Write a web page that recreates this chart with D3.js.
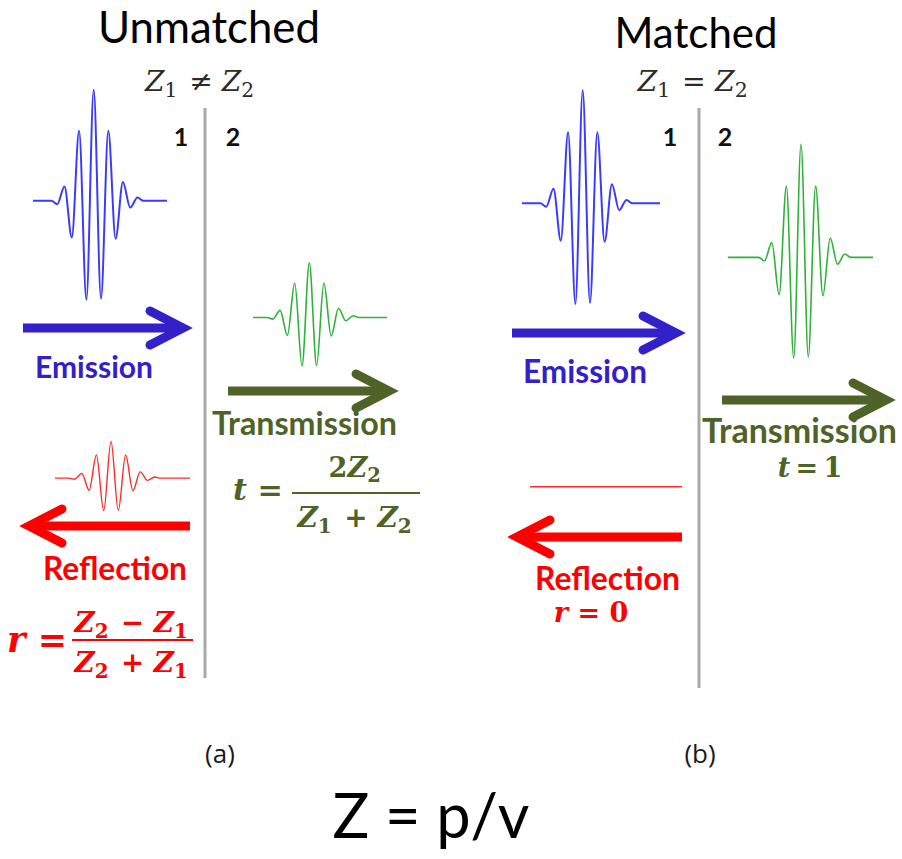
<!DOCTYPE html>
<html>
<head>
<meta charset="utf-8">
<script src="https://cdn.jsdelivr.net/npm/d3@7"></script>
<style>
  html, body { margin: 0; padding: 0; background: #ffffff; }
  svg { display: block; }
</style>
</head>
<body>
<svg id="fig" width="902" height="859"></svg>
<script>
// Normalised extrema of the ultrasonic wave packet (alternating troughs / crests)
const packetShape = [-0.03, 0.13, -0.33, 0.63, -0.89, 1.0, -0.88, 0.63, -0.34, 0.17, -0.06, 0.03];

// Panel content
const panelTitles = ["Unmatched", "Matched"];
const impedanceRelations = ["\u2260", "="];
const panelCaptions = ["(a)", "(b)"];
const mediumLabels = ["1", "2"];
const waveNames = ["Emission", "Transmission", "Reflection"];

// Relative amplitude of each wave (emission, transmission, reflection)
const amplitudesUnmatched = [1.0, 0.49, 0.33];
const amplitudesMatched = [1.0, 1.0, 0.0];

const footer = "Z = p/v";

// ---------------------------------------------------------------------------
const svg = d3.select("#fig");
const SANS = "Lato, 'Open Sans', sans-serif";
const SERIF = "'DejaVu Serif', 'Liberation Serif', serif";

const colors = {
  wave: ["#3b3bff", "#2fb23a", "#ff2b2b"],
  ink: ["#3320c8", "#4f6228", "#ff0000"],
  divider: "#a8a8a8"
};

// Layout of each panel: divider, wave packets, arrows, labels
const panels = [
  {
    amps: amplitudesUnmatched,
    divider: { x: 205, y1: 108, y2: 678 },
    mediumX: [181, 233], mediumY: 146,
    title: { cx: 209, y: 43, w: 222 },
    relation: { cx: 201, y: 91, w: 112 },
    caption: { cx: 220, y: 763 },
    waves: [
      { x0: 33, x1: 167, cx: 93.7, base: 206.7, unit: 117, width: 2 },
      { x0: 253, x1: 387, cx: 309.3, base: 323.3, unit: 117, width: 1.6 },
      { x0: 55, x1: 190, cx: 111, base: 484, unit: 117, width: 1.4 }
    ],
    arrows: [
      { from: 23, to: 187, y: 328 },
      { from: 228, to: 393, y: 391 },
      { from: 190, to: 25, y: 526 }
    ],
    names: [
      { cx: 94, y: 378, w: 118 },
      { cx: 304.5, y: 435, w: 185 },
      { cx: 115, y: 580, w: 144 }
    ]
  },
  {
    amps: amplitudesMatched,
    divider: { x: 699, y1: 108, y2: 688 },
    mediumX: [670, 725], mediumY: 146,
    title: { cx: 696, y: 48, w: 163 },
    relation: { cx: 694, y: 91, w: 113 },
    caption: { cx: 700, y: 763 },
    waves: [
      { x0: 522, x1: 660, cx: 582.7, base: 209.3, unit: 119, width: 2 },
      { x0: 728, x1: 873, cx: 801, base: 263.3, unit: 119, width: 1.6 },
      { x0: 530, x1: 682, cx: 600, base: 492.7, unit: 119, width: 1.4 }
    ],
    arrows: [
      { from: 512, to: 680, y: 333 },
      { from: 722, to: 890, y: 400 },
      { from: 682, to: 513, y: 537 }
    ],
    names: [
      { cx: 585, y: 383, w: 124 },
      { cx: 799.5, y: 443, w: 195 },
      { cx: 607.5, y: 590, w: 145 }
    ]
  }
];

const HALF_PERIOD = 7.3;   // px between successive extrema
const CENTER_INDEX = 5;    // index of the main crest

function fitWidth(sel, w) {
  const len = sel.node().getComputedTextLength();
  const fs = parseFloat(sel.attr("font-size"));
  sel.attr("font-size", (fs * w / len).toFixed(2));
  return sel;
}

function drawPacket(g, spec, amp, color) {
  const x = d3.scaleLinear()
    .domain([0, packetShape.length - 1])
    .range([spec.cx - CENTER_INDEX * HALF_PERIOD,
            spec.cx + (packetShape.length - 1 - CENTER_INDEX) * HALF_PERIOD]);
  const y = d3.scaleLinear()
    .domain([-1, 1])
    .range([spec.base + spec.unit * 0.9, spec.base - spec.unit]);
  const pts = [[spec.x0, y(0)], [x(-0.8), y(0)]];
  packetShape.forEach((a, i) => pts.push([x(i), y(a * amp)]));
  pts.push([x(packetShape.length - 0.2), y(0)], [spec.x1, y(0)]);
  g.append("path")
    .attr("d", d3.line().curve(d3.curveMonotoneX)(pts))
    .attr("fill", "none")
    .attr("stroke", color)
    .attr("stroke-width", spec.width)
    .attr("stroke-linejoin", "round");
}

function drawArrow(g, a, color) {
  const dir = a.to > a.from ? 1 : -1;
  const tip = a.to - dir * 4;
  const headLen = 33, headHalf = 17;
  g.append("line")
    .attr("x1", a.from).attr("x2", tip - dir * 2)
    .attr("y1", a.y).attr("y2", a.y)
    .attr("stroke", color).attr("stroke-width", 9);
  g.append("path")
    .attr("d", `M${tip - dir * headLen},${a.y - headHalf} L${tip},${a.y} L${tip - dir * headLen},${a.y + headHalf}`)
    .attr("fill", "none")
    .attr("stroke", color)
    .attr("stroke-width", 9)
    .attr("stroke-linecap", "round")
    .attr("stroke-linejoin", "miter");
}

// Math text: parts = [text, kind] with kind "i" italic, "r" roman, "s" subscript
function mathText(g, x, y, parts, size, color, bold, anchor, width) {
  const t = g.append("text")
    .attr("x", x).attr("y", y)
    .attr("font-family", SERIF)
    .attr("font-size", size)
    .attr("font-weight", bold ? "bold" : "normal")
    .attr("fill", color)
    .attr("text-anchor", anchor || "middle");
  parts.forEach(([s, kind]) => {
    if (kind === "s") {
      t.append("tspan").attr("font-size", "0.72em").attr("dy", "0.28em").text(s);
      t.append("tspan").attr("dy", "-0.2em").text("\u200A");
    } else {
      t.append("tspan").attr("font-style", kind === "i" ? "italic" : "normal").text(s);
    }
  });
  if (width) fitWidth(t, width);
  return t;
}

function fraction(g, f, num, den, color) {
  g.append("line")
    .attr("x1", f.x0).attr("x2", f.x1)
    .attr("y1", f.bar).attr("y2", f.bar)
    .attr("stroke", color).attr("stroke-width", 2.2);
  const cx = (f.x0 + f.x1) / 2;
  mathText(g, cx, f.numY, num, 26, color, true, "middle", f.numW);
  mathText(g, cx, f.denY, den, 26, color, true, "middle", f.denW);
}

panels.forEach((p, k) => {
  const g = svg.append("g");

  // medium boundary
  g.append("line")
    .attr("x1", p.divider.x).attr("x2", p.divider.x)
    .attr("y1", p.divider.y1).attr("y2", p.divider.y2)
    .attr("stroke", colors.divider).attr("stroke-width", 3);

  mediumLabels.forEach((m, i) => {
    g.append("text")
      .attr("x", p.mediumX[i]).attr("y", p.mediumY)
      .attr("text-anchor", "middle")
      .attr("font-family", SANS).attr("font-weight", "bold")
      .attr("font-size", 25).attr("fill", "#111")
      .text(m);
  });

  // panel title and impedance condition
  fitWidth(g.append("text")
    .attr("x", p.title.cx).attr("y", p.title.y)
    .attr("text-anchor", "middle")
    .attr("font-family", SANS).attr("font-size", 40).attr("fill", "#000")
    .text(panelTitles[k]), p.title.w);

  mathText(g, p.relation.cx, p.relation.y,
    [["Z", "i"], ["1", "s"], [" " + impedanceRelations[k] + " ", "r"], ["Z", "i"], ["2", "s"]],
    24, "#2b2b2b", false, "middle", p.relation.w);

  g.append("text")
    .attr("x", p.caption.cx).attr("y", p.caption.y)
    .attr("text-anchor", "middle")
    .attr("font-family", "'Open Sans', sans-serif").attr("font-size", 26).attr("fill", "#1a1a1a")
    .text(panelCaptions[k]);

  // waves, arrows and names
  p.waves.forEach((w, i) => drawPacket(g, w, p.amps[i], colors.wave[i]));
  p.arrows.forEach((a, i) => drawArrow(g, a, colors.ink[i]));
  p.names.forEach((n, i) => {
    fitWidth(g.append("text")
      .attr("x", n.cx).attr("y", n.y)
      .attr("text-anchor", "middle")
      .attr("font-family", SANS).attr("font-weight", "bold")
      .attr("font-size", 28).attr("fill", colors.ink[i])
      .text(waveNames[i]), n.w);
  });
});

// Reflection and transmission coefficients, unmatched panel
const gA = svg.append("g");
mathText(gA, 7, 652, [["r", "i"], [" =", "r"]], 28, colors.ink[2], true, "start", 60);
fraction(gA, { x0: 72, x1: 193, bar: 640, numY: 632, denY: 672, numW: 116, denW: 116 },
  [["Z", "i"], ["2", "s"], [" \u2212 ", "r"], ["Z", "i"], ["1", "s"]],
  [["Z", "i"], ["2", "s"], [" + ", "r"], ["Z", "i"], ["1", "s"]], colors.ink[2]);

mathText(gA, 233, 500, [["t", "i"], [" =", "r"]], 28, colors.ink[1], true, "start", 50);
fraction(gA, { x0: 292, x1: 420, bar: 493, numY: 477, denY: 527, numW: 55, denW: 117 },
  [["2", "r"], ["Z", "i"], ["2", "s"]],
  [["Z", "i"], ["1", "s"], [" + ", "r"], ["Z", "i"], ["2", "s"]], colors.ink[1]);

// Coefficients, matched panel
mathText(gA, 810, 477, [["t", "i"], ["\u2009=\u20091", "r"]], 27, colors.ink[1], true, "middle");
mathText(gA, 591, 622, [["r", "i"], [" = 0", "r"]], 27, colors.ink[2], true, "middle");

// Acoustic impedance definition
fitWidth(svg.append("text")
  .attr("x", 431).attr("y", 838)
  .attr("text-anchor", "middle")
  .attr("font-family", SANS).attr("font-size", 48).attr("fill", "#000")
  .text(footer), 197);
</script>
</body>
</html>
